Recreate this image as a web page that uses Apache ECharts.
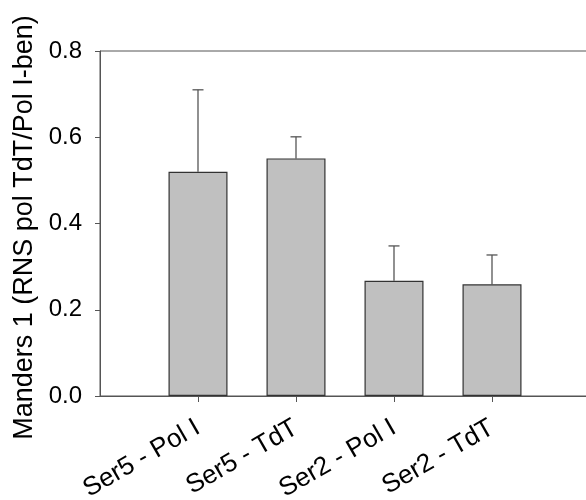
<!DOCTYPE html>
<html>
<head>
<meta charset="utf-8">
<script src="https://cdn.jsdelivr.net/npm/echarts@6/dist/echarts.min.js"></script>
<style>
  html, body { margin: 0; padding: 0; background: #fff; }
  #chart { width: 586px; height: 500px; }
</style>
</head>
<body>
<div id="chart"></div>
<script>
const categories = ['Ser5 - Pol I', 'Ser5 - TdT', 'Ser2 - Pol I', 'Ser2 - TdT']
const means = [0.52, 0.551, 0.267, 0.259]
const upperErr = [0.71, 0.601, 0.348, 0.327]
const yTicks = [0, 0.2, 0.4, 0.6, 0.8]

// pad one empty slot on each side so the bars sit where the original does
const xCats = [''].concat(categories, [''])
const barData = [null].concat(means, [null])
const errData = categories.map((c, i) => [i + 1, means[i], upperErr[i]])

const axisColor = '#555'
const chart = echarts.init(document.getElementById('chart'), undefined, { renderer: 'canvas' })

chart.setOption({
  backgroundColor: '#fff',
  animation: false,
  grid: {
    left: 100,
    top: 51,
    width: 490,
    bottom: 104,
    show: true,
    borderColor: axisColor,
    borderWidth: 1,
    outerBoundsMode: 'none',
  },
  xAxis: {
    type: 'category',
    data: xCats,
    boundaryGap: false,
    axisLine: { lineStyle: { color: axisColor, width: 1 } },
    axisTick: {
      length: 6,
      interval: (i) => i > 0 && i < xCats.length - 1,
      lineStyle: { color: axisColor },
    },
    axisLabel: {
      interval: 0,
      rotate: 30,
      margin: 30,
      color: '#000',
      fontFamily: 'Liberation Sans',
      fontSize: 26,
    },
    splitLine: { show: false },
  },
  yAxis: {
    type: 'value',
    min: yTicks[0],
    max: yTicks[yTicks.length - 1],
    interval: 0.2,
    name: 'Manders 1 (RNS pol TdT/Pol I-ben)',
    nameLocation: 'middle',
    nameGap: 59,
    nameTextStyle: {
      color: '#000',
      fontFamily: 'Liberation Sans',
      fontSize: 27,
      padding: [0, 8, 0, 0],
    },
    axisLine: { show: true, lineStyle: { color: axisColor } },
    axisTick: { show: true, length: 5, lineStyle: { color: axisColor } },
    axisLabel: {
      margin: 18,
      color: '#000',
      fontFamily: 'Liberation Sans',
      fontSize: 24,
      formatter: (v) => v.toFixed(1),
    },
    splitLine: { show: false },
  },
  series: [
    {
      type: 'bar',
      data: barData,
      barWidth: 59,
      itemStyle: { color: '#c0c0c0', borderColor: '#333', borderWidth: 1.2 },
      z: 2,
    },
    {
      type: 'custom',
      data: errData,
      z: 1,
      renderItem: (params, api) => {
        const base = api.coord([api.value(0), api.value(1)])
        const top = api.coord([api.value(0), api.value(2)])
        const half = 5.5
        const style = { stroke: axisColor, lineWidth: 1.3 }
        return {
          type: 'group',
          children: [
            { type: 'line', shape: { x1: base[0], y1: base[1], x2: top[0], y2: top[1] }, style },
            { type: 'line', shape: { x1: top[0] - half, y1: top[1], x2: top[0] + half, y2: top[1] }, style },
          ],
        }
      },
    },
  ],
})
</script>
</body>
</html>
